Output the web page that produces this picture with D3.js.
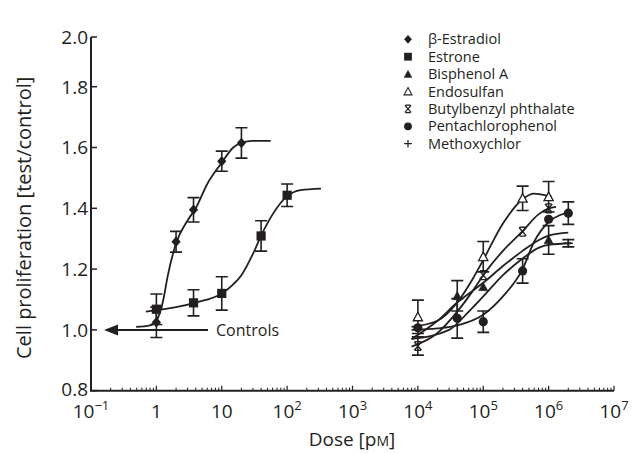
<!DOCTYPE html>
<html>
<head>
<meta charset="utf-8">
<script src="https://cdn.jsdelivr.net/npm/d3@7"></script>
<style>
  body { margin: 0; background: #fff; }
  svg { display: block; }
  text { font-family: "Open Sans", sans-serif; fill: #231f20; }
</style>
</head>
<body>
<svg id="chart" width="632" height="454"></svg>
<script>
// ---- data ----
const compounds = ['β-Estradiol', 'Estrone', 'Bisphenol A', 'Endosulfan',
                   'Butylbenzyl phthalate', 'Pentachlorophenol', 'Methoxychlor'];
const shapes = ['diamond', 'square', 'triangle', 'triangleOpen', 'star', 'circle', 'plus'];

const estradiolDose = [1, 2, 3.7, 10, 20];
const estradiolVal  = [1.025, 1.29, 1.395, 1.555, 1.615];
const estradiolErr  = [0.05, 0.034, 0.04, 0.033, 0.05];
const estradiolCurve = [[0.49, 1.01], [0.8, 1.015], [1, 1.03], [1.25, 1.09], [1.5, 1.18], [2, 1.285],
                        [3, 1.36], [4, 1.40], [6, 1.48], [10, 1.55], [15, 1.60], [20, 1.615], [30, 1.622], [56, 1.622]];

const estroneDose = [1, 3.7, 10, 40, 100];
const estroneVal  = [1.068, 1.089, 1.12, 1.309, 1.443];
const estroneErr  = [0.05, 0.043, 0.055, 0.05, 0.037];
const estroneCurve = [[0.69, 1.06], [1, 1.065], [2, 1.075], [4, 1.09], [10, 1.12], [15, 1.15], [20, 1.18],
                      [30, 1.25], [40, 1.31], [60, 1.38], [100, 1.44], [160, 1.46], [330, 1.465]];

const bisphenolDose = [4e4, 1e5, 1e6];
const bisphenolVal  = [1.112, 1.142, 1.296];
const bisphenolErr  = [0.05, 0, 0.047];
const bisphenolCurve = [[8e3, 0.97], [2e4, 1.03], [4e4, 1.09], [7e4, 1.13], [1e5, 1.155], [2e5, 1.21],
                        [4e5, 1.26], [7e5, 1.295], [1e6, 1.31], [2e6, 1.32]];

const endosulfanDose = [1e4, 1e5, 4e5, 1e6];
const endosulfanVal  = [1.043, 1.241, 1.433, 1.438];
const endosulfanErr  = [0.055, 0.05, 0.04, 0.05];
const endosulfanCurve = [[8e3, 1.01], [2e4, 1.03], [4e4, 1.09], [7e4, 1.17], [1e5, 1.23], [2e5, 1.35],
                         [4e5, 1.43], [6e5, 1.448], [1e6, 1.44], [1.1e6, 1.438]];

const butylDose = [1e4, 1e5, 4e5, 1e6];
const butylVal  = [0.947, 1.18, 1.323, 1.40];
const butylErr  = [0.03, 0, 0, 0];
const butylCurve = [[8e3, 0.945], [2e4, 0.99], [4e4, 1.06], [7e4, 1.13], [1e5, 1.18], [2e5, 1.26],
                    [4e5, 1.325], [7e5, 1.38], [1e6, 1.40], [1.3e6, 1.405]];

const pentaDose = [1e4, 4e4, 1e5, 4e5, 1e6, 2e6];
const pentaVal  = [1.007, 1.038, 1.027, 1.194, 1.364, 1.384];
const pentaErr  = [0, 0.065, 0.035, 0.04, 0, 0.037];
const pentaCurve = [[8e3, 1.0], [2e4, 1.005], [4e4, 1.015], [1e5, 1.05], [2e5, 1.11], [4e5, 1.2],
                    [6e5, 1.29], [1e6, 1.355], [1.5e6, 1.378], [2e6, 1.385]];

const methoxyDose = [2e6];
const methoxyVal  = [1.285];
const methoxyErr  = [0.012];
const methoxyCurve = [[8e3, 0.97], [3e4, 1.0], [6e4, 1.06], [1e5, 1.11], [2e5, 1.18], [4e5, 1.235],
                      [7e5, 1.27], [1e6, 1.28], [2.2e6, 1.285]];

const xTickExp = [-1, 0, 1, 2, 3, 4, 5, 6, 7];
const yTicks = [0.8, 1.0, 1.2, 1.4, 1.6, 1.8, 2.0];
const controlValue = 1.0;

// ---- layout ----
const svg = d3.select('#chart');
const x = d3.scaleLog().domain([0.1, 1e7]).range([91, 614]);
// the printed axis squeezes the last step (1.8 -> 2.0) a little
const y = d3.scaleLinear().domain([0.8, 1.8, 2.0]).range([390.7, 86.7, 37]);
const INK = '#231f20';

const series = [
  { dose: estradiolDose, val: estradiolVal, err: estradiolErr, curve: estradiolCurve, shape: shapes[0] },
  { dose: estroneDose, val: estroneVal, err: estroneErr, curve: estroneCurve, shape: shapes[1] },
  { dose: bisphenolDose, val: bisphenolVal, err: bisphenolErr, curve: bisphenolCurve, shape: shapes[2] },
  { dose: endosulfanDose, val: endosulfanVal, err: endosulfanErr, curve: endosulfanCurve, shape: shapes[3] },
  { dose: butylDose, val: butylVal, err: butylErr, curve: butylCurve, shape: shapes[4] },
  { dose: pentaDose, val: pentaVal, err: pentaErr, curve: pentaCurve, shape: shapes[5] },
  { dose: methoxyDose, val: methoxyVal, err: methoxyErr, curve: methoxyCurve, shape: shapes[6] },
];

// marker drawing, centred at 0,0
function drawMarker(g, shape) {
  const s = 4.6;
  if (shape === 'diamond') {
    g.append('path').attr('d', `M0,${-s - 0.6}L${s},0L0,${s + 0.6}L${-s},0Z`).attr('fill', INK);
  } else if (shape === 'square') {
    g.append('rect').attr('x', -s).attr('y', -s).attr('width', 2 * s).attr('height', 2 * s).attr('fill', INK);
  } else if (shape === 'triangle' || shape === 'triangleOpen') {
    const open = shape === 'triangleOpen';
    g.append('path').attr('d', `M0,${-s}L${s},${s * 0.85}L${-s},${s * 0.85}Z`)
      .attr('fill', open ? '#fff' : INK).attr('stroke', INK).attr('stroke-width', open ? 1.3 : 0.5);
  } else if (shape === 'circle') {
    g.append('circle').attr('r', s).attr('fill', INK);
  } else if (shape === 'star') {
    g.append('path').attr('d', `M-3.6,-4.2L3.6,4.2M3.6,-4.2L-3.6,4.2M-3,-4.4L3,-4.4M-3,4.4L3,4.4`)
      .attr('stroke', INK).attr('stroke-width', 1.4).attr('fill', 'none');
  } else if (shape === 'plus') {
    g.append('path').attr('d', 'M-4.5,0L4.5,0M0,-4.5L0,4.5')
      .attr('stroke', INK).attr('stroke-width', 1.5).attr('fill', 'none');
  }
}

// ---- axes ----
const axes = svg.append('g').attr('stroke', INK).attr('fill', 'none');
axes.append('path').attr('d', `M${x(0.1)},${y(2.0)}V${y(0.8)}H${x(1e7)}`).attr('stroke-width', 2);

// y ticks point inward
yTicks.forEach(v => {
  axes.append('line').attr('x1', x(0.1)).attr('x2', x(0.1) + 6)
    .attr('y1', y(v)).attr('y2', y(v)).attr('stroke-width', 1.5);
});
svg.append('g').selectAll('text').data(yTicks).join('text')
  .attr('x', 88).attr('y', d => y(d) - (d === 0.8 ? 2 : 0)).attr('dy', '0.36em')
  .attr('text-anchor', 'end').attr('font-size', 19)
  .text(d => d3.format('.1f')(d));

// x ticks: minor 2..9 and majors, pointing up
xTickExp.forEach(e => {
  const base = Math.pow(10, e);
  if (e > -1 && e <= 7) {
    axes.append('line').attr('x1', x(base)).attr('x2', x(base))
      .attr('y1', y(0.8)).attr('y2', y(0.8) - 5).attr('stroke-width', 1.2);
  }
  if (e < 7) {
    d3.range(2, 10).forEach(m => {
      axes.append('line').attr('x1', x(base * m)).attr('x2', x(base * m))
        .attr('y1', y(0.8)).attr('y2', y(0.8) - 3).attr('stroke-width', 1);
    });
  }
});

const xl = svg.append('g').attr('font-size', 19).attr('text-anchor', 'middle');
xTickExp.forEach(e => {
  const t = xl.append('text').attr('x', x(Math.pow(10, e))).attr('y', 418);
  if (e === 0) { t.text('1'); return; }
  t.append('tspan').text('10');
  if (e !== 1) {
    t.append('tspan').attr('dy', -8).attr('font-size', 13).text(e < 0 ? '\u2212' + (-e) : e);
  }
});

// axis titles
const xt = svg.append('text').attr('x', 352).attr('y', 446).attr('text-anchor', 'middle').attr('font-size', 19);
xt.append('tspan').text('Dose [p');
xt.append('tspan').attr('font-size', 14).text('M');
xt.append('tspan').text(']');

svg.append('text')
  .attr('transform', `translate(31,${(y(2.0) + y(0.8)) / 2 + 4}) rotate(-90)`)
  .attr('text-anchor', 'middle').attr('font-size', 20)
  .text('Cell proliferation [test/control]');

// ---- controls arrow ----
svg.append('line').attr('x1', 112).attr('x2', 208).attr('y1', y(controlValue)).attr('y2', y(controlValue))
  .attr('stroke', INK).attr('stroke-width', 2);
svg.append('path').attr('d', `M104,${y(controlValue)}l14,-5.5v11Z`).attr('fill', INK);
svg.append('text').attr('x', 216).attr('y', y(controlValue)).attr('dy', '0.36em')
  .attr('font-size', 16).text('Controls');

// ---- fitted curves ----
const line = d3.line().x(d => x(d[0])).y(d => y(d[1])).curve(d3.curveMonotoneX);
svg.append('g').selectAll('path').data(series).join('path')
  .attr('d', d => line(d.curve)).attr('fill', 'none').attr('stroke', INK).attr('stroke-width', 1.8);

// ---- error bars and markers ----
series.forEach(s => {
  const g = svg.append('g');
  s.dose.forEach((d, i) => {
    const cx = x(d), cy = y(s.val[i]), e = s.err[i];
    if (e > 0) {
      const top = y(s.val[i] + e), bot = y(s.val[i] - e);
      g.append('path').attr('d', `M${cx},${top}V${bot}M${cx - 6},${top}H${cx + 6}M${cx - 6},${bot}H${cx + 6}`)
        .attr('stroke', INK).attr('stroke-width', 1.6).attr('fill', 'none');
    }
    drawMarker(g.append('g').attr('transform', `translate(${cx},${cy})`), s.shape);
  });
});

// ---- legend ----
const legend = svg.append('g').attr('transform', 'translate(408,39.3)');
compounds.forEach((name, i) => {
  const row = legend.append('g').attr('transform', `translate(0,${i * 17.4})`);
  drawMarker(row.append('g').attr('transform', 'scale(0.85)'), shapes[i]);
  row.append('text').attr('x', 20).attr('dy', '0.35em').attr('font-size', 14.5).text(name);
});
</script>
</body>
</html>
